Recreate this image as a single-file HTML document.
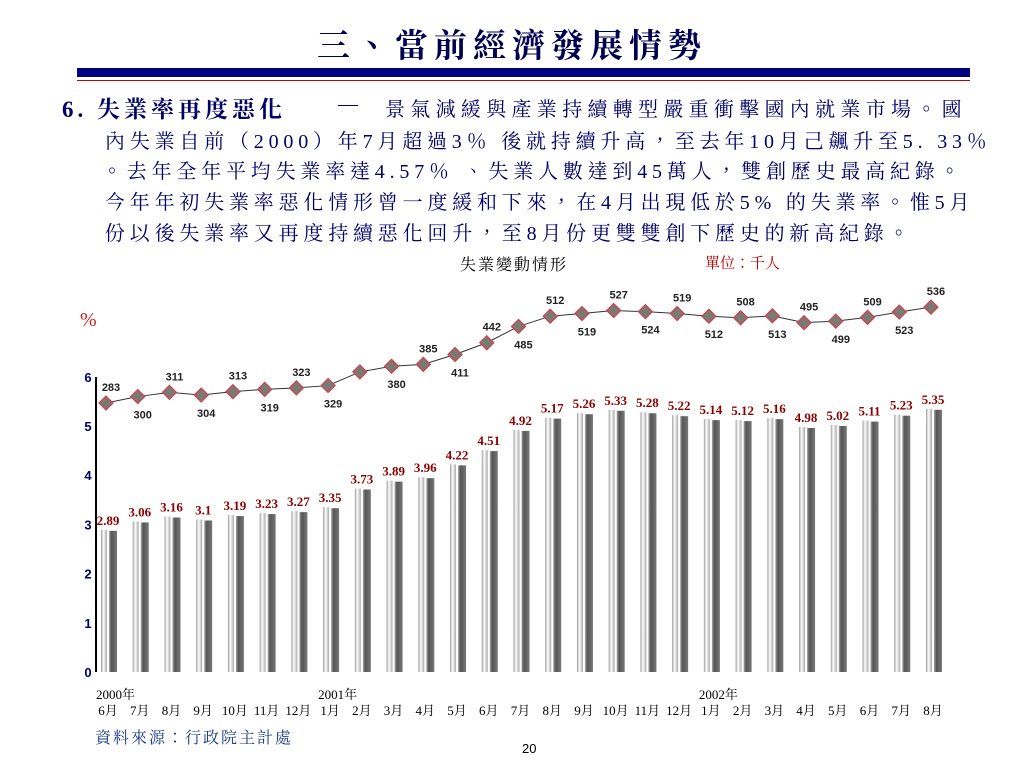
<!DOCTYPE html>
<html><head><meta charset="utf-8">
<style>
body{margin:0;width:1024px;height:768px;background:#fff;position:relative;overflow:hidden;font-family:"Liberation Serif","Noto Serif CJK TC","Noto Serif CJK SC",serif;}
.t{position:absolute;white-space:nowrap;color:#000066;}
.ln{position:absolute;left:105px;font-size:20px;letter-spacing:4.8px;color:#000066;white-space:nowrap;}
</style></head>
<body>
<div class="t" style="left:0;width:1024px;text-align:center;top:20px;font-size:33px;font-weight:bold;letter-spacing:6px;color:#000050;">三、當前經濟發展情勢</div>
<div style="position:absolute;left:77px;top:68px;width:893px;height:9px;background:#000080"></div>
<div style="position:absolute;left:77px;top:80px;width:893px;height:1px;background:#c00000"></div>
<div class="t" style="left:62px;top:91px;font-size:23px;font-weight:bold;letter-spacing:4px;">6. 失業率再度惡化</div>
<div class="t" style="left:338px;top:93px;font-size:20px;">—</div>
<div class="ln" style="left:385px;top:93px;letter-spacing:5.3px;">景氣減緩與產業持續轉型嚴重衝擊國內就業市場。國</div>
<div class="ln" style="top:125px;">內失業自前（2000）年7月超過3％ 後就持續升高，至去年10月己飆升至5. 33％</div>
<div class="ln" style="top:155px;left:102px;">。去年全年平均失業率達4.57％ 、失業人數達到45萬人，雙創歷史最高紀錄。</div>
<div class="ln" style="top:186px;">今年年初失業率惡化情形曾一度緩和下來，在4月出現低於5% 的失業率。惟5月</div>
<div class="ln" style="top:217px;">份以後失業率又再度持續惡化回升，至8月份更雙雙創下歷史的新高紀錄。</div>
<div class="t" style="left:460px;top:252px;font-size:16px;color:#000;letter-spacing:2px;">失業變動情形</div>
<div class="t" style="left:705px;top:252px;font-size:15px;color:#c00000;">單位：千人</div>
<div class="t" style="left:95px;top:725px;font-size:16px;letter-spacing:2px;color:#1a3a8a;">資料來源：行政院主計處</div>
<div class="t" style="left:522px;top:741px;font-size:13px;color:#000;font-family:'Liberation Sans',sans-serif;">20</div>
<svg id="chart" width="1024" height="768" style="position:absolute;left:0;top:0">
<defs>
<linearGradient id="gl" x1="0" x2="1"><stop offset="0" stop-color="#999"/><stop offset=".4" stop-color="#fff"/><stop offset="1" stop-color="#aaa"/></linearGradient>
<linearGradient id="gd" x1="0" x2="1"><stop offset="0" stop-color="#aaa"/><stop offset=".3" stop-color="#555"/><stop offset="1" stop-color="#777"/></linearGradient>
</defs>
</svg>
<script>
const months=["6月","7月","8月","9月","10月","11月","12月","1月","2月","3月","4月","5月","6月","7月","8月","9月","10月","11月","12月","1月","2月","3月","4月","5月","6月","7月","8月"];
const rates=[2.89,3.06,3.16,3.1,3.19,3.23,3.27,3.35,3.73,3.89,3.96,4.22,4.51,4.92,5.17,5.26,5.33,5.28,5.22,5.14,5.12,5.16,4.98,5.02,5.11,5.23,5.35];
const unemployed=[283,300,311,304,313,319,323,329,365,380,385,411,442,485,512,519,527,524,519,512,508,513,495,499,509,523,536];
const labelAbove=[1,0,1,0,1,0,1,0,-1,0,1,0,1,0,1,0,1,0,1,0,1,0,1,0,1,0,1];
const yTicks=[0,1,2,3,4,5,6];
const years=[["2000年",0],["2001年",7],["2002年",19]];
const svg=document.getElementById('chart');const NS="http://www.w3.org/2000/svg";
function mk(t,a,txt){const e=document.createElementNS(NS,t);for(const k in a)e.setAttribute(k,a[k]);if(txt!=null)e.textContent=txt;svg.appendChild(e);return e;}
const x=i=>110+i*31.73;
const y=v=>672-v*49.2;
const yl=v=>403-(v-283)*0.379;
let e=mk('line',{x1:96,y1:377,x2:96,y2:672,stroke:'#000','stroke-width':2});

yTicks.forEach(t=>{const e=mk('text',{x:88,y:y(t)+5,'text-anchor':'middle','font-size':13,'font-weight':'bold',fill:'#000066','font-family':'Liberation Sans,sans-serif'},t);
});
e=mk('text',{x:80,y:326,'font-size':20,fill:'#d02020','font-family':'Liberation Serif,serif'},'%');

rates.forEach((r,i)=>{
 const a=mk('rect',{x:x(i)-9,y:y(r),width:6,height:672-y(r),fill:'url(#gl)'});
 
 const b=mk('rect',{x:x(i)-1,y:y(r)+1,width:8,height:671-y(r),fill:'url(#gd)'});
 
 const t=mk('text',{x:x(i)-2,y:y(r)-5,'text-anchor':'middle','font-size':13,'font-weight':'bold',fill:'#8b0000','font-family':'Liberation Serif,serif'},String(r));
 
});
const pts=unemployed.map((v,i)=>x(i)-4+','+yl(v)).join(' ');
e=mk('polyline',{points:pts,fill:'none',stroke:'#333','stroke-width':1});

unemployed.forEach((v,i)=>{const cx=x(i)-4,cy=yl(v);
 const m=mk('polygon',{points:`${cx},${cy-7} ${cx+7},${cy} ${cx},${cy+7} ${cx-7},${cy}`,fill:'#7a7a72',stroke:'#d04050','stroke-width':1.2});
 
 if(labelAbove[i]>=0){const t=mk('text',{x:cx+5,y:labelAbove[i]?cy-12:cy+22,'text-anchor':'middle','font-size':11,'font-weight':'bold',fill:'#222','font-family':'Liberation Sans,sans-serif'},String(v));
 }
});
months.forEach((m,i)=>{const t=mk('text',{x:x(i)-2,y:715,'text-anchor':'middle','font-size':13,fill:'#000','font-family':'Liberation Serif,Noto Serif CJK TC,serif'},m);
 });
years.forEach(([s,i])=>{const t=mk('text',{x:x(i)-14,y:699,'font-size':13,fill:'#000','font-family':'Liberation Serif,Noto Serif CJK TC,serif'},s);
 });
</script>
</body></html>
